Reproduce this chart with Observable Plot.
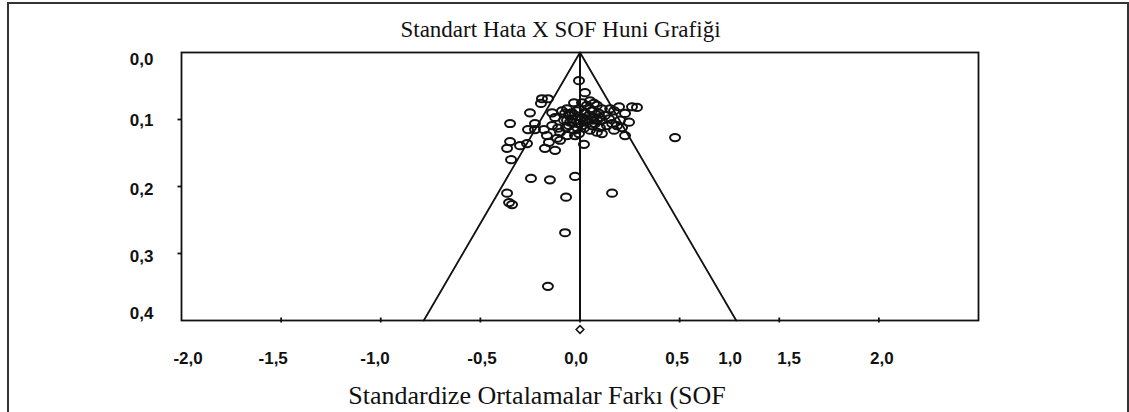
<!DOCTYPE html>
<html>
<head>
<meta charset="utf-8">
<script src="https://cdn.jsdelivr.net/npm/d3@7"></script>
<script src="https://cdn.jsdelivr.net/npm/@observablehq/plot@0.6"></script>
<style>
  html, body { margin: 0; padding: 0; background: #fff; }
  #wrap { position: relative; width: 1129px; height: 412px; overflow: hidden; }
  #border { position: absolute; left: 7px; top: 2px; width: 1118px; height: 430px; border: 2px solid #333; pointer-events: none; }
</style>
</head>
<body>
<div id="wrap"><div id="chart"></div><div id="border"></div></div>
<script>
// ---- data ----
const chartTitle = "Standart Hata X SOF Huni Grafiği";
const xTitle = "Standardize Ortalamalar Farkı (SOF";

// standardized mean difference of each study
const smd = [
  -0.351, -0.251, -0.191, -0.161, -0.196, -0.140, -0.226, -0.261, -0.226, -0.181,
  -0.140, -0.125, -0.351, -0.366, -0.301, -0.266, -0.166, -0.156, -0.115, -0.100,
  -0.070, -0.065, -0.055, -0.050, -0.080, -0.125, -0.176, -0.346, -0.246, -0.151,
  -0.025, 0.161, -0.366, -0.356, -0.341, -0.070, -0.075, -0.161, -0.005, 0.025,
  0.286, 0.477, 0.020, -0.100, -0.030, 0.010, 0.050, 0.085, 0.110, 0.151,
  0.171, 0.226, 0.246, 0.201, 0.186, 0.211, 0.226, 0.171, 0.110, 0.085,
  -0.050, -0.055, -0.025, 0.025, 0.070, 0.110, 0.135, 0.060, 0.000, -0.015,
  0.025, -0.005, -0.005, 0.020, -0.030, -0.005, 0.045, 0.035, 0.060, 0.095,
  0.085, 0.050, 0.010, -0.040, 0.125, 0.146, -0.090, -0.110, 0.261, 0.161,
  0.100, -0.065, -0.075, 0.070, 0.196, -0.040, 0.035, 0.075, -0.015, 0.050,
  -0.065, 0.100, 0.010, -0.030, 0.060
];
// standard error of each study
const se = [
  0.106, 0.090, 0.069, 0.069, 0.076, 0.090, 0.106, 0.115, 0.115, 0.115,
  0.109, 0.097, 0.133, 0.143, 0.139, 0.136, 0.124, 0.134, 0.128, 0.119,
  0.112, 0.084, 0.094, 0.104, 0.101, 0.146, 0.143, 0.160, 0.188, 0.190,
  0.185, 0.210, 0.210, 0.224, 0.227, 0.216, 0.269, 0.349, 0.042, 0.060,
  0.082, 0.127, 0.137, 0.131, 0.075, 0.075, 0.072, 0.079, 0.084, 0.084,
  0.087, 0.091, 0.104, 0.101, 0.109, 0.112, 0.124, 0.116, 0.121, 0.119,
  0.091, 0.109, 0.124, 0.104, 0.097, 0.101, 0.109, 0.109, 0.101, 0.087,
  0.090, 0.084, 0.106, 0.113, 0.116, 0.121, 0.094, 0.079, 0.087, 0.091,
  0.101, 0.116, 0.097, 0.099, 0.094, 0.099, 0.087, 0.113, 0.081, 0.106,
  0.112, 0.124, 0.091, 0.076, 0.081, 0.090, 0.099, 0.106, 0.112, 0.084,
  0.101, 0.097, 0.109, 0.104, 0.101
];

const pooled = [0.0];                 // pooled estimate (diamond)
const funnelX = [-0.784, 0, 0.784];   // funnel limits
const funnelY = [0.4, 0, 0.4];

const xTicks = [-1.5, -1.0, -0.5, 0.0, 0.5, 1.0, 1.5];
const xLabels = ["-2,0", "-1,5", "-1,0", "-0,5", "0,0", "0,5", "1,0", "1,5", "2,0"];
const xLabelPos = [-1.967, -1.540, -1.029, -0.492, -0.020, 0.487, 0.753, 1.049, 1.515];
const yTicks = [0.1, 0.2, 0.3];
const yLabels = ["0,0", "0,1", "0,2", "0,3", "0,4"];
const yLabelPos = [0.011, 0.101, 0.205, 0.305, 0.390];

// ---- rendering ----
const studies = smd.map((d, i) => ({x: d, y: se[i]}));
const funnel = funnelX.map((d, i) => ({x: d, y: funnelY[i]}));

const K = 0.5523;
const ellipse = {
  draw(ctx) {
    const rx = 5.0, ry = 3.6;
    ctx.moveTo(rx, 0);
    ctx.bezierCurveTo(rx, ry * K, rx * K, ry, 0, ry);
    ctx.bezierCurveTo(-rx * K, ry, -rx, ry * K, -rx, 0);
    ctx.bezierCurveTo(-rx, -ry * K, -rx * K, -ry, 0, -ry);
    ctx.bezierCurveTo(rx * K, -ry, rx, -ry * K, rx, 0);
    ctx.closePath();
  }
};

const sans = "Liberation Sans, Arial, sans-serif";
const serif = "Liberation Serif, Times New Roman, serif";

const chart = Plot.plot({
  width: 1129,
  height: 412,
  marginLeft: 181,
  marginRight: 151,
  marginTop: 52,
  marginBottom: 92,
  style: {background: "transparent", overflow: "visible"},
  x: {domain: [-2, 2], axis: null},
  y: {domain: [0, 0.4], reverse: true, axis: null},
  marks: [
    Plot.frame({stroke: "#111", strokeWidth: 1.8}),
    Plot.ruleX(xTicks, {x: d => d, y1: () => 0.4, y2: () => 0.4, insetTop: -2.5, insetBottom: -2.5, stroke: "#111", strokeWidth: 1.8}),
    Plot.ruleY(yTicks, {y: d => d, x1: () => -2, x2: () => -2, insetLeft: -3.5, stroke: "#111", strokeWidth: 1.8}),
    Plot.line(funnel, {x: "x", y: "y", stroke: "#111", strokeWidth: 1.8}),
    Plot.ruleX(pooled, {x: d => d, y1: () => 0, y2: () => 0.4, stroke: "#111", strokeWidth: 2}),
    Plot.dot(studies, {x: "x", y: "y", symbol: ellipse, stroke: "#111", strokeWidth: 2, fill: "none"}),
    Plot.dot(pooled, {x: d => d, y: () => 0.4, dy: 9, symbol: "diamond2", r: 3.5, stroke: "#111", strokeWidth: 1.5, fill: "white"}),
    Plot.text(xLabels, {text: d => d, x: (d, i) => xLabelPos[i], frameAnchor: "bottom", lineAnchor: "middle", dy: 38.5, fontFamily: sans, fontWeight: "bold", fontSize: 17, fill: "#111"}),
    Plot.text(yLabels, {text: d => d, y: (d, i) => yLabelPos[i], frameAnchor: "left", lineAnchor: "middle", textAnchor: "end", dx: -28, fontFamily: sans, fontWeight: "bold", fontSize: 17, fill: "#111"}),
    Plot.text([chartTitle], {text: d => d, frameAnchor: "top", lineAnchor: "middle", dx: -19.5, dy: -22.4, fontFamily: serif, fontSize: 23, fill: "#111"}),
    Plot.text([xTitle], {text: d => d, frameAnchor: "bottom", lineAnchor: "middle", dx: -43, dy: 74.7, fontFamily: serif, fontSize: 26, fill: "#111"})
  ]
});
document.getElementById("chart").appendChild(chart);
</script>
</body>
</html>
